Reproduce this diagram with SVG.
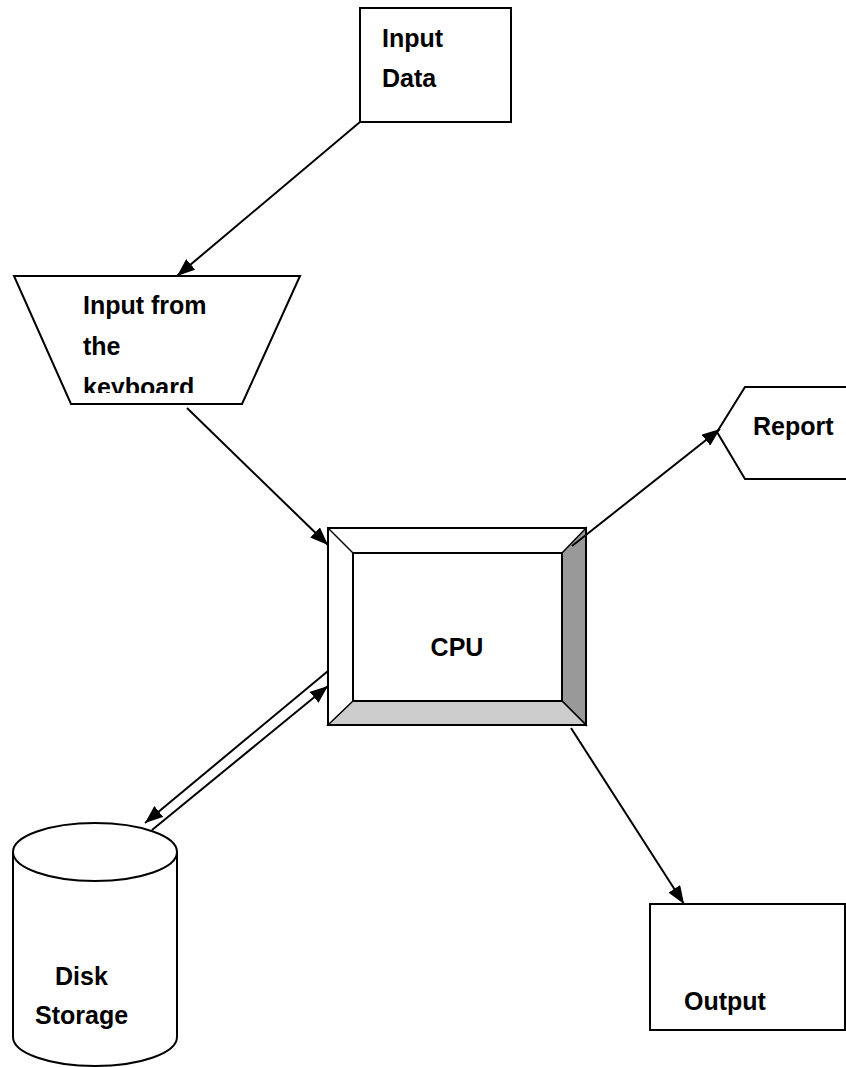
<svg xmlns="http://www.w3.org/2000/svg" width="846" height="1067" viewBox="0 0 846 1067">
<style>
.shape{fill:#fff;stroke:#000;stroke-width:2}
.lbl{font-family:"Liberation Sans",Arial,sans-serif;font-weight:bold;font-size:25px;fill:#000}
.conn{stroke:#000;stroke-width:2;fill:none;marker-end:url(#arr)}
</style>
<defs>
<marker id="arr" markerUnits="userSpaceOnUse" markerWidth="19" markerHeight="14" refX="18" refY="7" orient="auto">
<path d="M0,0 L18,7 L0,14 z" fill="#000"/>
</marker>
<clipPath id="clipKb"><rect x="0" y="0" width="846" height="393"/></clipPath>
<clipPath id="clipDisk"><rect x="0" y="0" width="846" height="1031"/></clipPath>
</defs>
<rect width="846" height="1067" fill="#fff"/>

<g id="input-data">
<rect class="shape" x="360" y="8" width="151" height="114"/>
<text class="lbl" x="382" y="47">Input</text>
<text class="lbl" x="382" y="87">Data</text>
</g>

<g id="keyboard">
<polygon class="shape" points="14,276 300,276 242,404 71,404"/>
<g clip-path="url(#clipKb)">
<text class="lbl" x="83" y="314">Input from</text>
<text class="lbl" x="83" y="355">the</text>
<text class="lbl" x="83" y="396">keyboard</text>
</g>
</g>

<g id="cpu">
<rect x="328" y="528" width="258" height="197" fill="#fff" stroke="#000" stroke-width="2"/>
<polygon points="562,553 586,528 586,725 562,701" fill="#999" stroke="#000" stroke-width="1.5"/>
<polygon points="353,701 562,701 586,725 328,725" fill="#ccc" stroke="#000" stroke-width="1.5"/>
<line x1="328" y1="528" x2="353" y2="553" stroke="#000" stroke-width="1.5"/>
<rect x="353" y="553" width="209" height="148" fill="#fff" stroke="#000" stroke-width="2"/>
<rect x="328" y="528" width="258" height="197" fill="none" stroke="#000" stroke-width="2"/>
<text class="lbl" x="457" y="656" text-anchor="middle">CPU</text>
</g>

<g id="report">
<path class="shape" d="M846,387 L745,387 L717,432 L745,479 L846,479"/>
<text class="lbl" x="753" y="435">Report</text>
</g>

<g id="disk">
<path class="shape" d="M13,852 L13,1037 A82,29 0 0 0 177,1037 L177,852"/>
<ellipse class="shape" cx="95" cy="852" rx="82" ry="29"/>
<g clip-path="url(#clipDisk)">
<text class="lbl" x="55" y="985">Disk</text>
<text class="lbl" x="35" y="1024">Storage</text>
</g>
</g>

<g id="output">
<rect class="shape" x="650" y="904" width="195" height="126"/>
<text class="lbl" x="684" y="1010">Output</text>
</g>

<g id="connectors">
<line class="conn" x1="360" y1="122" x2="177" y2="276"/>
<line class="conn" x1="187" y1="408" x2="328" y2="545"/>
<line class="conn" x1="572" y1="546" x2="720" y2="429"/>
<line class="conn" x1="571" y1="728" x2="684" y2="904"/>
<line class="conn" x1="328" y1="671" x2="145" y2="823"/>
<line class="conn" x1="152" y1="830" x2="328" y2="686"/>
</g>
</svg>
